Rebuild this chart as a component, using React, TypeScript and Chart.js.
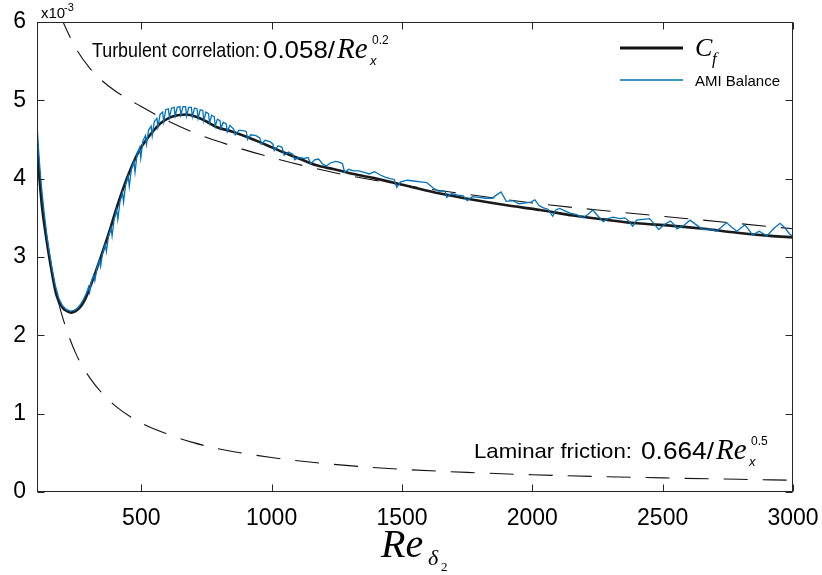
import React, { useEffect, useRef } from "react";
import { Chart, registerables } from "chart.js";
Chart.register(...registerables);

// ---- data (values x 10^-3) ----
const xTickValues = [500, 1000, 1500, 2000, 2500, 3000];
const yTickValues = [0, 1, 2, 3, 4, 5, 6];

const cfCurve: [number, number][] = [
  [100, 4.45], [110, 3.98], [120, 3.62], [133, 3.3], [151, 2.92], [174, 2.52], [199, 2.35],
  [215, 2.31], [231, 2.29], [248, 2.31], [263, 2.35], [280, 2.43], [295, 2.54], [327, 2.83],
  [350, 3.05], [378, 3.33], [400, 3.57], [429, 3.86], [460, 4.13], [494, 4.37], [520, 4.5],
  [544, 4.6], [575, 4.71], [609, 4.78], [640, 4.81], [673, 4.82], [710, 4.79], [750, 4.73],
  [788, 4.66], [850, 4.6], [916, 4.52], [980, 4.43], [1043, 4.34], [1110, 4.25], [1172, 4.17],
  [1240, 4.12], [1300, 4.07], [1389, 4.01], [1518, 3.91], [1646, 3.81], [1773, 3.73],
  [1902, 3.66], [2030, 3.6], [2157, 3.53], [2272, 3.48], [2401, 3.43], [2529, 3.4],
  [2657, 3.36], [2785, 3.31], [2913, 3.27], [3000, 3.25],
];

const amiBalance: [number, number][] = [
  [100, 4.7], [104, 4.48], [108, 4.27], [113, 4.05], [120, 3.8], [128, 3.55], [137, 3.3],
  [147, 3.07], [158, 2.85], [170, 2.64], [183, 2.48], [197, 2.38], [212, 2.33], [228, 2.31],
  [243, 2.32], [256, 2.35], [268, 2.4], [280, 2.47], [290, 2.54], [298, 2.62], [302, 2.55],
  [308, 2.68], [318, 2.77], [322, 2.7], [330, 2.86], [340, 2.96], [344, 2.88], [352, 3.06],
  [362, 3.16], [366, 3.07], [374, 3.26], [384, 3.37], [388, 3.27], [396, 3.48], [406, 3.6],
  [410, 3.48], [418, 3.7], [428, 3.82], [432, 3.7], [440, 3.92], [450, 4.03], [454, 3.9],
  [462, 4.12], [472, 4.22], [476, 4.08], [484, 4.31], [494, 4.4], [498, 4.26], [506, 4.48],
  [516, 4.55], [520, 4.44], [528, 4.62], [538, 4.67], [542, 4.55], [550, 4.73], [560, 4.77],
  [564, 4.66], [572, 4.82], [582, 4.85], [586, 4.73], [594, 4.88], [604, 4.89], [608, 4.78],
  [616, 4.9], [626, 4.91], [630, 4.8], [638, 4.91], [648, 4.92], [652, 4.81], [660, 4.92],
  [670, 4.92], [674, 4.8], [682, 4.91], [692, 4.91], [696, 4.79], [704, 4.9], [714, 4.89],
  [718, 4.77], [726, 4.88], [736, 4.87], [740, 4.74], [748, 4.85], [758, 4.83], [762, 4.71],
  [770, 4.81], [780, 4.79], [784, 4.67], [792, 4.76], [802, 4.74], [806, 4.64], [814, 4.72],
  [826, 4.7], [830, 4.6], [840, 4.68], [855, 4.63], [860, 4.56], [875, 4.62], [895, 4.61],
  [903, 4.6], [908, 4.5], [920, 4.56], [940, 4.55], [955, 4.52], [960, 4.44], [975, 4.49],
  [995, 4.47], [1005, 4.44], [1010, 4.36], [1025, 4.42], [1040, 4.4], [1048, 4.3], [1065, 4.34],
  [1082, 4.31], [1088, 4.24], [1105, 4.27], [1125, 4.26], [1140, 4.27], [1150, 4.19],
  [1165, 4.24], [1180, 4.25], [1195, 4.19], [1210, 4.16], [1225, 4.2], [1245, 4.22],
  [1260, 4.21], [1272, 4.19], [1280, 4.08], [1295, 4.12], [1315, 4.1], [1335, 4.1],
  [1355, 4.08], [1375, 4.06], [1395, 4.09], [1415, 4.05], [1435, 4.02], [1455, 4.0],
  [1470, 3.99], [1480, 3.89], [1495, 3.96], [1520, 3.98], [1545, 3.97], [1570, 3.96],
  [1595, 3.95], [1620, 3.88], [1640, 3.84], [1665, 3.84], [1672, 3.76], [1690, 3.81],
  [1715, 3.79], [1735, 3.78], [1750, 3.72], [1770, 3.77], [1795, 3.76], [1820, 3.75],
  [1845, 3.75], [1862, 3.79], [1880, 3.83], [1900, 3.71], [1925, 3.72], [1950, 3.68],
  [1975, 3.69], [1995, 3.7], [2010, 3.73], [2025, 3.66], [2040, 3.63], [2060, 3.61],
  [2078, 3.52], [2090, 3.6], [2105, 3.62], [2125, 3.59], [2145, 3.56], [2170, 3.54],
  [2195, 3.5], [2215, 3.55], [2232, 3.6], [2250, 3.53], [2272, 3.45], [2290, 3.49],
  [2310, 3.51], [2335, 3.49], [2355, 3.5], [2370, 3.46], [2385, 3.39], [2400, 3.47],
  [2425, 3.48], [2450, 3.49], [2468, 3.42], [2485, 3.35], [2505, 3.41], [2530, 3.46],
  [2545, 3.41], [2555, 3.36], [2580, 3.4], [2605, 3.47], [2625, 3.42], [2655, 3.35],
  [2680, 3.36], [2705, 3.33], [2725, 3.38], [2745, 3.44], [2765, 3.38], [2785, 3.33],
  [2800, 3.37], [2815, 3.41], [2830, 3.35], [2845, 3.28], [2870, 3.33], [2885, 3.3],
  [2900, 3.27], [2925, 3.36], [2950, 3.43], [2970, 3.37], [2985, 3.3], [3000, 3.26],
];

const turbulentCorrelation: [number, number][] = [
  [190, 6.08], [200, 6.0], [250, 5.66], [300, 5.42], [350, 5.25], [400, 5.12], [500, 4.92],
  [600, 4.74], [700, 4.59], [800, 4.47], [1000, 4.27], [1250, 4.07], [1500, 3.92],
  [1750, 3.8], [2000, 3.69], [2250, 3.6], [2500, 3.52], [2750, 3.44], [3000, 3.36],
];

const laminarFriction: [number, number][] = [
  [100, 4.41], [120, 3.68], [150, 2.94], [175, 2.52], [200, 2.21], [250, 1.76], [300, 1.47],
  [350, 1.26], [400, 1.1], [500, 0.88], [600, 0.74], [700, 0.63], [800, 0.55], [1000, 0.44],
  [1250, 0.35], [1500, 0.29], [1750, 0.25], [2000, 0.22], [2500, 0.18], [3000, 0.15],
];

const pts = (a: [number, number][]) => a.map(([x, y]) => ({ x, y }));

const SANS = "'Liberation Sans', Arial, sans-serif";
const SERIF = "'Liberation Serif', 'Times New Roman', serif";

function txt(ctx: CanvasRenderingContext2D, s: string, font: string, x: number, y: number, w?: number) {
  ctx.font = font;
  const m = ctx.measureText(s).width;
  ctx.save();
  ctx.translate(x, y);
  if (w) ctx.scale(w / m, 1);
  ctx.fillText(s, 0, 0);
  ctx.restore();
  return w ? w : m;
}

const decor = {
  id: "decor",
  afterDatasetsDraw(chart: any) {
    const { ctx, chartArea: a, scales } = chart;
    const xs = scales.x;
    const ys = scales.y;
    ctx.save();
    // box
    ctx.strokeStyle = "#262626";
    ctx.lineWidth = 1;
    const L = Math.round(a.left) + 0.5;
    const R = Math.round(a.right) - 0.5;
    const T = Math.round(a.top) + 0.5;
    const B = Math.round(a.bottom) - 0.5;
    ctx.strokeRect(L, T, R - L, B - T);
    // inward ticks
    const tl = 7;
    ctx.beginPath();
    xs.ticks.forEach((t: any) => {
      const px = Math.round(xs.getPixelForValue(t.value)) + 0.5;
      ctx.moveTo(px, B);
      ctx.lineTo(px, B - tl);
      ctx.moveTo(px, T);
      ctx.lineTo(px, T + tl);
    });
    ys.ticks.forEach((t: any) => {
      const py = Math.round(ys.getPixelForValue(t.value)) + 0.5;
      ctx.moveTo(L, py);
      ctx.lineTo(L + tl, py);
      ctx.moveTo(R, py);
      ctx.lineTo(R - tl, py);
    });
    ctx.stroke();

    ctx.fillStyle = "#000";
    ctx.textBaseline = "alphabetic";
    ctx.textAlign = "left";

    // exponent label
    txt(ctx, "x10", `15px ${SANS}`, 41, 18);
    txt(ctx, "-3", `11px ${SANS}`, 64, 11);

    // turbulent annotation
    txt(ctx, "Turbulent correlation:", `21px ${SANS}`, 92, 57, 168);
    txt(ctx, "0.058/", `24px ${SANS}`, 263, 58, 72);
    txt(ctx, "Re", `italic 29px ${SERIF}`, 337, 58);
    txt(ctx, "0.2", `12px ${SANS}`, 372, 44);
    txt(ctx, "x", `italic 13px ${SANS}`, 370, 65);

    // laminar annotation
    txt(ctx, "Laminar friction:", `21px ${SANS}`, 474, 458, 158);
    txt(ctx, "0.664/", `24px ${SANS}`, 641, 459, 73);
    txt(ctx, "Re", `italic 29px ${SERIF}`, 716, 459);
    txt(ctx, "0.5", `12px ${SANS}`, 751, 445);
    txt(ctx, "x", `italic 13px ${SANS}`, 749, 466);

    // legend
    ctx.lineWidth = 3;
    ctx.strokeStyle = "#111";
    ctx.beginPath();
    ctx.moveTo(620, 48);
    ctx.lineTo(683, 48);
    ctx.stroke();
    ctx.lineWidth = 1.3;
    ctx.strokeStyle = "#0072BD";
    ctx.beginPath();
    ctx.moveTo(620, 80);
    ctx.lineTo(683, 80);
    ctx.stroke();
    txt(ctx, "C", `italic 26px ${SERIF}`, 695, 56);
    txt(ctx, "f", `italic 17px ${SERIF}`, 712, 64);
    txt(ctx, "AMI Balance", `15px ${SANS}`, 695, 86);

    // x-axis title
    txt(ctx, "Re", `italic 40px ${SERIF}`, 381, 557);
    txt(ctx, "δ", `italic 22px ${SERIF}`, 428, 565);
    txt(ctx, "2", `13px ${SERIF}`, 441, 571);
    ctx.restore();
  },
};

export default function App() {
  const ref = useRef<HTMLCanvasElement | null>(null);
  useEffect(() => {
    if (!ref.current) return;
    const chart = new Chart(ref.current, {
      type: "line",
      data: {
        datasets: [
          {
            label: "AMI Balance",
            data: pts(amiBalance),
            borderColor: "#0072BD",
            borderWidth: 1.3,
            pointRadius: 0,
            tension: 0,
          },
          {
            label: "C_f",
            data: pts(cfCurve),
            borderColor: "#1a1a1a",
            borderWidth: 2.6,
            pointRadius: 0,
            cubicInterpolationMode: "monotone",
          },
          {
            label: "Turbulent correlation",
            data: pts(turbulentCorrelation),
            borderColor: "#111",
            borderWidth: 1.1,
            borderDash: [24, 15],
            pointRadius: 0,
            cubicInterpolationMode: "monotone",
          },
          {
            label: "Laminar friction",
            data: pts(laminarFriction),
            borderColor: "#111",
            borderWidth: 1.1,
            borderDash: [24, 15],
            pointRadius: 0,
            cubicInterpolationMode: "monotone",
          },
        ],
      } as any,
      options: {
        animation: false,
        responsive: false,
        layout: { padding: { top: 22, right: 29, left: 0, bottom: 0 } },
        plugins: { legend: { display: false }, tooltip: { enabled: false } },
        scales: {
          x: {
            type: "linear",
            min: 100,
            max: 3000,
            afterBuildTicks: (s: any) => {
              s.ticks = xTickValues.map((v) => ({ value: v }));
            },
            afterFit: (s: any) => {
              s.height = 83;
              s.paddingLeft = 0;
              s.paddingRight = 0;
            },
            grid: { display: false, drawTicks: false },
            border: { display: false },
            ticks: {
              color: "#000",
              font: { family: SANS, size: 23 },
              padding: 13,
              maxRotation: 0,
              autoSkip: false,
              callback: (v: any) => String(v),
            },
          },
          y: {
            type: "linear",
            min: 0,
            max: 6,
            afterBuildTicks: (s: any) => {
              s.ticks = yTickValues.map((v) => ({ value: v }));
            },
            afterFit: (s: any) => {
              s.width = 37;
              s.paddingTop = 0;
              s.paddingBottom = 0;
            },
            grid: { display: false, drawTicks: false },
            border: { display: false },
            ticks: {
              color: "#000",
              font: { family: SANS, size: 23 },
              padding: 11,
              autoSkip: false,
              callback: (v: any) => String(v),
            },
          },
        },
      } as any,
      plugins: [decor],
    });
    return () => chart.destroy();
  }, []);
  return (
    <div style={{ position: "absolute", left: 0, top: 0, width: 822, height: 575, background: "#fff" }}>
      <canvas ref={ref} width={822} height={575} style={{ display: "block" }} />
    </div>
  );
}
